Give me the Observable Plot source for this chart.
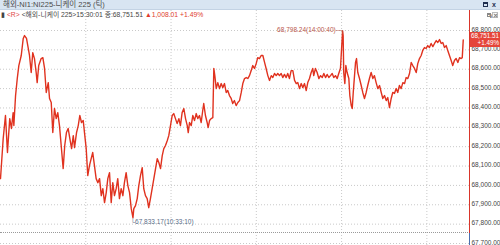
<!DOCTYPE html>
<html><head><meta charset="utf-8">
<script src="https://cdn.jsdelivr.net/npm/d3@7"></script>
<script src="https://cdn.jsdelivr.net/npm/@observablehq/plot@0.6"></script>
<style>
html,body{margin:0;padding:0;background:#fff}
body{width:500px;height:245px;overflow:hidden;position:relative;font-family:"Liberation Sans","Noto Sans CJK KR",sans-serif}
#bar{position:absolute;left:0;top:0;width:500px;height:10px;background:#d8e5f2;border-bottom:1px solid #c3d3e4;box-sizing:border-box;font-size:7.5px;line-height:10px;color:#4a4a4a;padding-left:3px;white-space:nowrap}
.box{position:absolute;box-sizing:border-box}
.xt{position:absolute;font-family:"Liberation Sans",sans-serif}
.xl{position:absolute;width:5px;height:1px;background:#888;left:492.5px;top:14.5px}
#chart{position:absolute;left:0;top:10px}
#info{position:absolute;left:1px;top:10px;font-size:6.8px;line-height:9px;color:#444;white-space:nowrap}
#info .r{color:#e04848}
#info .up{color:#e03c2c}
#vline{position:absolute;left:469px;top:10px;width:1px;height:223px;background:#d9352a}
#vline2{position:absolute;left:469px;top:233px;width:1px;height:12px;background:#4a6fb0}
#sep{position:absolute;left:0;top:232px;width:468px;height:0;border-top:1px dotted #9a9a9a}
#pbox{position:absolute;left:470px;width:30px;height:15px;background:#e5453a;color:#fff;font-size:6.3px;line-height:7.2px;text-align:right;padding-right:1px;box-sizing:border-box}
</style></head>
<body>
<div id="bar">해외-NI1:NI225-니케이 225 (틱)</div>
<div class="box" style="left:483px;top:2px;width:5px;height:5px;border:1px solid #1f2f4f;border-top-width:2px"></div>
<div class="xt" style="left:492px;top:0px;font-size:7px;line-height:9px;color:#1f2f4f;font-weight:bold">x</div>
<div id="chart"></div>
<div id="info">▮ <span class="r">&lt;R&gt;</span> &lt;해외-니케이 225&gt;15:30:01 종:68,751.51 <span class="up">▲1,008.01 +1.49%</span></div>
<div class="box" style="left:487px;top:13px;width:4px;height:4px;border:1px solid #888;border-top-width:2px"></div>
<div class="box" style="left:492px;top:12px;width:6px;height:6px;border:1px solid #bbb"></div>
<div class="xl" style="transform:rotate(45deg)"></div><div class="xl" style="transform:rotate(-45deg)"></div>
<div id="sep"></div>
<div id="vline"></div><div id="vline2"></div>
<div id="pbox"></div>
<script>
// trading minutes since 09:00 (lunch break removed) and price
const minutes = [0,1.9,3.5,4.9,6.5,7.7,8.9,9.4,10.6,11.8,12.9,14.6,16.0,16.9,18.3,19.2,20.4,21.6,22.7,23.9,25.1,25.8,26.9,28.6,29.8,31.0,32.2,33.6,34.5,35.7,36.8,38.0,39.2,40.3,41.5,42.7,44.1,45.2,46.4,47.6,48.8,50.0,51.2,52.1,53.5,54.7,55.8,57.0,58.2,59.1,60.3,61.4,62.6,63.8,64.9,66.1,67.3,68.5,69.7,70.9,72.0,73.2,74.4,75.5,76.7,77.9,79.0,80.2,81.4,82.5,83.7,84.9,86.1,87.2,88.4,89.6,90.8,92.0,93.2,93.8,95.0,96.2,97.3,98.5,99.7,100.8,102.0,103.2,104.3,105.5,106.7,107.9,109.1,110.3,111.4,112.6,113.8,114.9,116.1,117.3,118.4,119.6,120.8,121.9,123.1,124.3,125.5,126.6,127.8,129.0,130.2,131.4,132.1,133.0,134.2,135.3,136.5,137.7,138.8,140.0,141.2,142.3,143.0,144.2,145.4,146.1,147.1,148.2,149.4,150.1,150.8,151.8,152.9,154.1,155.3,156.4,157.6,158.8,159.9,161.1,162.3,163.4,164.6,165.8,167.0,168.2,169.4,170.5,171.7,172.9,174.0,175.2,176.4,177.5,178.7,179.9,181.0,182.2,183.4,184.6,185.8,186.9,188.1,189.3,190.5,191.6,192.8,194.0,195.1,196.3,197.5,198.6,199.8,201.0,202.1,203.3,204.5,205.7,206.9,208.1,209.2,210.4,211.6,212.7,213.9,215.1,216.2,217.4,218.6,219.7,220.4,221.6,222.8,224.0,225.2,226.4,227.5,228.7,229.9,231.0,232.2,233.4,234.5,235.7,236.9,238.0,239.2,240.7,241.1,241.5,242.3,243.0,243.9,245.1,245.8,246.8,247.5,248.2,249.1,249.8,250.5,251.4,252.6,253.8,254.9,256.1,257.3,258.4,259.6,260.8,262.0,263.1,264.3,265.5,266.7,267.9,269.0,270.2,271.4,272.5,273.7,274.9,276.0,277.2,278.4,279.5,280.7,281.9,283.1,284.3,285.4,286.6,287.8,289.0,290.1,291.3,292.5,293.6,294.8,296.0,297.1,298.3,299.5,300.6,301.8,303.0,304.2,305.4,306.6,307.7,308.9,310.1,311.2,312.4,313.6,314.7,315.9,317.1,318.2,319.4,320.6,321.8,323.0,324.1,324.9,325.6];
const prices = [68035,68242,68361,68170,68345,68294,68376,68309,68464,68552,68619,68671,68759,68774,68759,68722,68671,68583,68686,68655,68583,68531,68619,68655,68660,68604,68480,68531,68449,68428,68273,68397,68345,68376,68309,68206,68087,68206,68273,68294,68242,68190,68257,68195,68273,68309,68361,68325,68335,68273,68190,68051,68102,68138,68170,68102,68035,68014,68035,67947,67983,67911,67963,68035,68066,67911,68014,67947,67983,68035,67932,67983,67947,68014,68066,67999,67963,67880,67833.17,67880,67896,67932,67999,68051,68092,67983,67947,67932,67885,67932,67983,68035,68087,68138,68118,68087,68154,68190,68206,68231,68257,68309,68361,68371,68345,68319,68345,68309,68376,68397,68345,68309,68273,68325,68309,68361,68335,68371,68345,68361,68325,68387,68423,68361,68325,68299,68335,68345,68350,68604,68567,68500,68531,68500,68526,68505,68526,68480,68490,68464,68449,68423,68438,68412,68428,68438,68480,68526,68552,68557,68552,68567,68593,68619,68604,68629,68660,68655,68671,68671,68635,68604,68567,68542,68567,68557,68578,68567,68578,68567,68578,68557,68573,68557,68578,68552,68593,68593,68542,68526,68531,68500,68526,68505,68526,68490,68531,68552,68583,68604,68567,68604,68583,68552,68567,68557,68578,68557,68573,68557,68567,68578,68557,68567,68552,68578,68604,68798.24,68774,68583,68526,68619,68583,68552,68464,68412,68397,68480,68567,68635,68655,68583,68552,68516,68480,68449,68480,68516,68552,68583,68552,68567,68531,68500,68516,68480,68449,68464,68438,68454,68402,68449,68480,68475,68500,68480,68516,68500,68531,68526,68557,68552,68578,68635,68619,68604,68583,68629,68655,68671,68697,68712,68707,68722,68712,68733,68717,68733,68748,68738,68753,68733,68738,68712,68722,68697,68671,68645,68619,68645,68655,68635,68660,68655,68660,68751.51];
const yTicks = [67700,67800,67900,68000,68100,68200,68300,68400,68500,68600,68700,68800];
const xTicks = [60,120,180,240,300];       // 10:00, 11:00, 13:00, 14:00, 15:00
const xDomain = [0,330];                     // 09:00 .. 15:30 without lunch
const yDomain = [67689.7,68903.3];
const lowPoint = [{t:93.2, v:67833.17, label:"└67,833.17(10:33:10)"}];
const highPoint = [{t:240.7, v:68798.24, label:"68,798.24(14:00:40)─┐"}];
const lastPrice = 68751.51, lastChange = "+1.49%";

const data = minutes.map((t,i)=>({t, v:prices[i]}));
const fmt = d3.format(",.2f");

const plot = Plot.plot({
  width:500, height:235,
  marginLeft:0, marginRight:31, marginTop:0, marginBottom:0,
  style:{fontFamily:'"Liberation Sans","Noto Sans CJK KR",sans-serif', background:"transparent", overflow:"visible"},
  x:{domain:xDomain, axis:null},
  y:{domain:yDomain, axis:null},
  marks:[
    Plot.gridY(yTicks, {stroke:"#c9c9c9", strokeOpacity:1, strokeDasharray:"1,2"}),
    Plot.gridX(xTicks, {stroke:"#c9c9c9", strokeOpacity:1, strokeDasharray:"1,2"}),
    Plot.line(data, {x:"t", y:"v", stroke:"#e0321f", strokeWidth:1.4}),
    Plot.axisY(yTicks, {anchor:"right", tickSize:0, tickPadding:2, dy:-1, tickFormat:fmt, fontSize:6.5, fill:"#444"}),
    Plot.text(lowPoint, {x:"t", y:"v", text:"label", textAnchor:"start", dx:-2.5, dy:4.5, fontSize:6.5, fill:"#5a6c88"}),
    Plot.text(highPoint, {x:"t", y:"v", text:"label", textAnchor:"end", dx:2.3, dy:-0.5, fontSize:6.5, fill:"#b9574c"})
  ]
});
document.getElementById("chart").appendChild(plot);
const py = plot.scale("y").apply(lastPrice) + 10;
const box = document.getElementById("pbox");
box.style.top = (py - 7.5) + "px";
box.innerHTML = fmt(lastPrice) + "<br>" + lastChange;
</script>
</body></html>
